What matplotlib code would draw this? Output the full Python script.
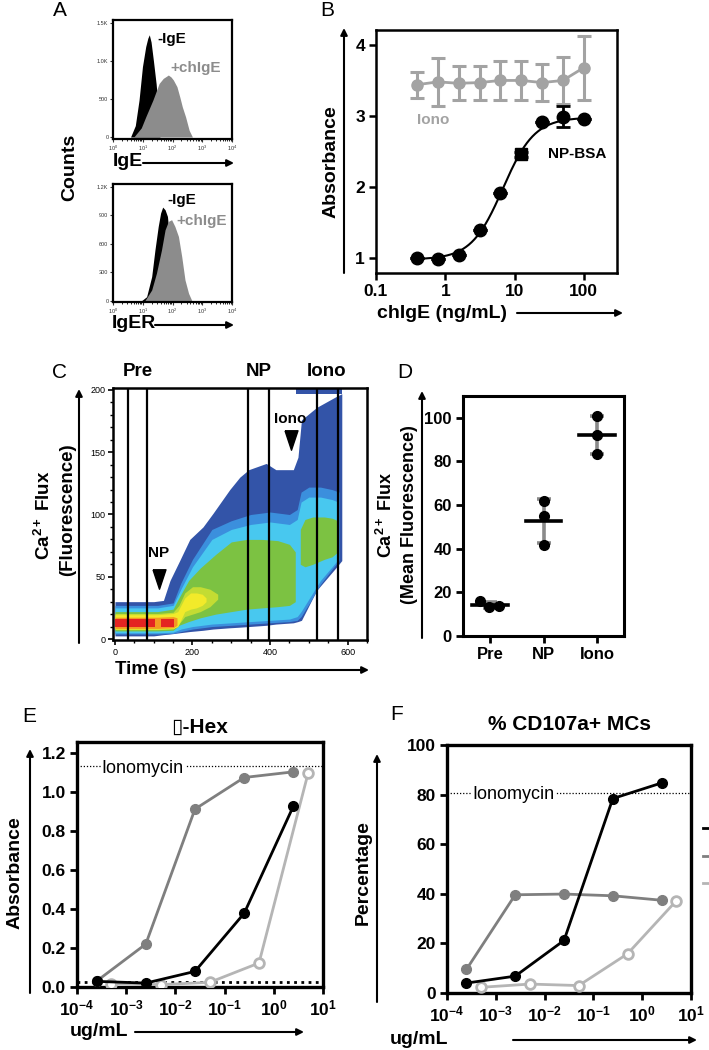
import numpy as np
import matplotlib
matplotlib.use('Agg')
import matplotlib.pyplot as plt
from matplotlib.patches import FancyArrowPatch
import matplotlib.transforms as mtransforms
from matplotlib.ticker import MultipleLocator, LogLocator, NullFormatter, FixedLocator

plt.rcParams['font.family'] = ['Liberation Sans', 'DejaVu Sans']
plt.rcParams['mathtext.fontset'] = 'custom'
plt.rcParams['mathtext.rm'] = 'Liberation Sans'
plt.rcParams['mathtext.bf'] = 'Liberation Sans:bold'
plt.rcParams['mathtext.it'] = 'Liberation Sans:italic'

# ---------------- DATA ----------------
# Panel A: flow histograms (log10 fluorescence, counts)
a1_black_log = [0.59, 0.75, 0.875, 0.99, 1.10, 1.17, 1.22, 1.28, 1.36, 1.45, 1.52, 1.58]
a1_black_cnt = [0, 150, 485, 926, 1190, 1300, 1345, 1250, 1000, 700, 380, 0]
a1_gray_log = [0.70, 0.95, 1.10, 1.34, 1.55, 1.69, 1.80, 1.86, 1.95, 2.03, 2.15, 2.25, 2.33, 2.44, 2.56, 2.67]
a1_gray_cnt = [0, 120, 265, 485, 705, 772, 800, 816, 790, 750, 662, 520, 397, 265, 88, 0]
a2_black_log = [0.96, 1.13, 1.30, 1.41, 1.52, 1.60, 1.67, 1.75, 1.83, 1.92, 2.00]
a2_black_cnt = [0, 42, 254, 536, 784, 925, 988, 960, 890, 600, 0]
a2_gray_log = [1.07, 1.30, 1.46, 1.63, 1.75, 1.86, 1.97, 2.08, 2.20, 2.31, 2.42, 2.54, 2.65]
a2_gray_cnt = [0, 113, 290, 536, 748, 837, 855, 784, 678, 466, 219, 78, 0]
a1_yticks = [0, 500, 1000, 1500]
a1_ylabels = ['0', '500', '1.0K', '1.5K']
a2_yticks = [0, 300, 600, 900, 1200]
a2_ylabels = ['0', '300', '600', '900', '1.2K']
a_xticks = [1, 10, 100, 1000, 10000]
a_xlabels = [r'$10^{0}$', r'$10^{1}$', r'$10^{2}$', r'$10^{3}$', r'$10^{4}$']

# Panel B
b_conc = [0.390625, 0.78125, 1.5625, 3.125, 6.25, 12.5, 25, 50, 100]
b_np = [1.00, 0.99, 1.05, 1.39, 1.92, 2.46, 2.91, 2.99, 2.96]
b_np_err = [0, 0, 0, 0, 0, 0.04, 0, 0.15, 0]
b_np_marker = ['o', 'o', 'o', 'o', 'o', 's', 'o', 'o', 'o']
b_iono = [3.44, 3.48, 3.46, 3.47, 3.50, 3.50, 3.47, 3.50, 3.68]
b_iono_err = [0.18, 0.34, 0.24, 0.24, 0.27, 0.27, 0.26, 0.33, 0.45]
b_fit_bottom, b_fit_top, b_fit_ec50, b_fit_hill = 0.98, 2.98, 6.8, 1.9
b_xticks = [0.1, 1, 10, 100]
b_xlabels = ['0.1', '1', '10', '100']
b_yticks = [1, 2, 3, 4]

# Panel C: density layers (time s, fluorescence lo/hi)
env_t = [0, 100, 125, 142, 167, 193, 227, 253, 296, 322, 345, 390, 415, 460, 472, 481, 520, 572, 585]
env_lo = [2.5, 2.5, 3.5, 4, 5, 6, 7, 8, 9, 9.5, 10, 11, 12, 13, 14, 15, 39, 58, 63]
env_hi = [30, 30, 31, 47, 63, 80, 90, 101, 120, 130, 136, 141, 136, 136, 146, 176, 186, 195, 197]
sat_t = [468, 585]
sat_lo = [196.5, 196.5]
sat_hi = [201, 201]
lb_t = [0, 110, 150, 170, 200, 250, 300, 350, 400, 450, 470, 480, 500, 530, 560, 578]
lb_lo = [4, 4, 4.5, 6, 8, 10, 11, 12, 13, 14, 15, 18, 28, 44, 56, 63]
lb_hi = [27, 27, 29, 45, 64, 88, 95, 100, 102, 100, 104, 118, 122, 122, 120, 118]
cy_t = [0, 110, 150, 170, 200, 250, 300, 350, 400, 450, 470, 480, 500, 530, 560, 576]
cy_lo = [5, 5, 5.5, 8, 10, 12, 13, 14, 15, 16, 18, 22, 32, 47, 58, 64]
cy_hi = [25, 25, 27, 40, 58, 80, 88, 92, 94, 92, 96, 110, 114, 114, 112, 110]
g1_t = [0, 110, 150, 165, 190, 220, 260, 300, 340, 380, 420, 450, 465]
g1_lo = [6.5, 6.5, 7, 11, 14, 17, 20, 22, 24, 25, 26, 27, 30]
g1_hi = [22, 22, 24, 33, 47, 57, 68, 78, 80, 80, 79, 76, 70]
g2_t = [478, 490, 510, 540, 560, 575]
g2_lo = [60, 58, 60, 64, 66, 70]
g2_hi = [88, 96, 98, 98, 97, 95]
yg_t = [0, 110, 150, 165, 180, 200, 220, 245, 265]
yg_lo = [7.5, 7.5, 8, 12, 18, 20, 22, 26, 32]
yg_hi = [20.5, 20.5, 21.5, 27, 37, 42, 42, 40, 36]
ye_t = [0, 110, 150, 162, 180, 195, 210, 225, 235]
ye_lo = [8, 8, 8.5, 10, 22, 24, 25, 27, 30]
ye_hi = [19.5, 19.5, 20.5, 22, 33, 37, 37, 36, 33]
or_t = [0, 110, 150, 160]
or_lo = [8.5, 8.5, 9, 11]
or_hi = [17.5, 17.5, 18, 17]
red_segments = [[0, 104], [118, 152]]
red_lo, red_hi = 9.5, 16
c_gates = [33, 83, 343, 397, 520, 574]
c_gate_names = ['Pre', 'NP', 'Iono']
c_event_t = [113, 453]
c_event_y = [48, 160]
c_event_label_y = [69, 177]
c_event_names = ['NP', 'Iono']

# Panel D
d_groups = ['Pre', 'NP', 'Iono']
d_values = [[16.0, 13.3, 13.6], [61.7, 54.8, 41.7], [101.0, 92.3, 83.4]]
d_jitter = [[-0.19, -0.02, 0.17], [0, 0, 0], [0, 0, 0]]

# Panel E / F
ef_x_filled = [2.5e-4, 2.5e-3, 2.5e-2, 0.25, 2.5]
ef_x_open = [5e-4, 5e-3, 5e-2, 0.5, 5]
e_black = [0.029, 0.020, 0.080, 0.378, 0.927]
e_dgray = [0.030, 0.220, 0.912, 1.074, 1.103]
e_lgray = [0.017, 0.012, 0.024, 0.123, 1.098]
e_iono = 1.132
e_base = 0.026
f_black = [4.0, 6.8, 21.2, 78.4, 84.7]
f_dgray = [9.5, 39.6, 39.9, 39.2, 37.4]
f_lgray = [2.3, 3.6, 3.0, 15.8, 37.2]
f_iono = 80.7
series_names = ['Antigen 1', 'Antigen 2', 'Antigen 3']
ef_xticks = [1e-4, 1e-3, 1e-2, 1e-1, 1e0, 1e1]
ef_xlabels = [r'$\mathbf{10^{-4}}$', r'$\mathbf{10^{-3}}$', r'$\mathbf{10^{-2}}$',
              r'$\mathbf{10^{-1}}$', r'$\mathbf{10^{0}}$', r'$\mathbf{10^{1}}$']

# ---------------- FIGURE ----------------
W, H = 709, 1050
fig = plt.figure(figsize=(W / 100, H / 100), dpi=100)


def ax_px(l, t, r, b):
    return fig.add_axes([l / W, 1 - b / H, (r - l) / W, (b - t) / H])


def fpt(x, y):
    return (x / W, 1 - y / H)


def arrow(x0, y0, x1, y1, lw=1.5, ms=10):
    fig.add_artist(FancyArrowPatch(fpt(x0, y0), fpt(x1, y1), transform=fig.transFigure,
                                   arrowstyle='-|>', mutation_scale=ms, lw=lw, color='k',
                                   shrinkA=0, shrinkB=0))


def ftext(x, y, s, **kw):
    kw.setdefault('va', 'center')
    kw.setdefault('ha', 'center')
    fig.text(x / W, 1 - y / H, s, **kw)


def spines(ax, lw):
    for s in ax.spines.values():
        s.set_linewidth(lw)


def bold_ticks(ax):
    for lab in ax.get_xticklabels() + ax.get_yticklabels():
        lab.set_fontweight('bold')


BLACK = '#000000'
DGRAY = '#7f7f7f'
LGRAY = '#b5b5b5'
HGRAY = '#8c8c8c'
BGRAY = '#a3a3a3'

# ---------- Panel A ----------
for (box, blog, bcnt, glog, gcnt, yl, yt, ylab, txt) in [
        ((113, 20, 232, 139), a1_black_log, a1_black_cnt, a1_gray_log, a1_gray_cnt,
         (-26, 1540), a1_yticks, a1_ylabels, ((32, 1288), (83, 904))),
        ((113, 184, 232, 302), a2_black_log, a2_black_cnt, a2_gray_log, a2_gray_cnt,
         (-14, 1232), a2_yticks, a2_ylabels, ((67, 1059), (138, 844)))]:
    ax = ax_px(*box)
    ax.set_xscale('log')
    ax.set_xlim(1, 1e4)
    ax.set_ylim(*yl)
    ax.fill_between(10 ** np.array(blog), bcnt, 0, color=BLACK, lw=0)
    ax.fill_between(10 ** np.array(glog), gcnt, 0, color=HGRAY, lw=0)
    ax.set_yticks(yt)
    ax.set_yticklabels(ylab)
    ax.set_xticks(a_xticks)
    ax.set_xticklabels(a_xlabels)
    ax.xaxis.set_minor_locator(LogLocator(base=10, subs=np.arange(2, 10)))
    ax.xaxis.set_minor_formatter(NullFormatter())
    ax.tick_params(labelsize=4, length=2.5, width=0.8, pad=0.8, colors='#333333')
    ax.tick_params(which='minor', length=1.5, width=0.6)
    spines(ax, 1.6)
    ax.text(txt[0][0], txt[0][1], '-IgE', fontsize=11, fontweight='bold', color=BLACK,
            ha='left', va='center')
    ax.text(txt[1][0], txt[1][1], '+chIgE', fontsize=11, fontweight='bold', color=HGRAY,
            ha='left', va='center')

ftext(60, 11, 'A', fontsize=15)
ftext(113, 161, 'IgE', fontsize=14, fontweight='bold', ha='left')
arrow(143, 163, 234, 163)
ftext(112, 324, 'IgER', fontsize=14, fontweight='bold', ha='left')
arrow(155, 325, 234, 325)
ftext(70, 167, 'Counts', fontsize=14, fontweight='bold', rotation=90)

# ---------- Panel B ----------
axB = ax_px(376, 30, 617, 273)
axB.set_xscale('log')
axB.set_xlim(0.1, 302)
axB.set_ylim(0.79, 4.21)
xs = np.logspace(np.log10(b_conc[0]), np.log10(b_conc[-1]), 300)
fit = b_fit_bottom + (b_fit_top - b_fit_bottom) / (1 + (b_fit_ec50 / xs) ** b_fit_hill)
axB.plot(xs, fit, color=BLACK, lw=1.5, zorder=2)
axB.errorbar(b_conc, b_iono, yerr=b_iono_err, color=BGRAY, marker='o', ms=8, lw=2,
             elinewidth=2.2, capsize=5, capthick=2.2, zorder=3)
axB.errorbar(b_conc, b_np, yerr=b_np_err, fmt='none', ecolor=BLACK, elinewidth=2,
             capsize=5, capthick=2, zorder=4)
for xv, yv, mk in zip(b_conc, b_np, b_np_marker):
    axB.plot([xv], [yv], marker=mk, ms=9 if mk == 'o' else 8, color=BLACK, ls='none', zorder=5)
axB.set_xticks(b_xticks)
axB.set_xticklabels(b_xlabels)
axB.xaxis.set_minor_locator(FixedLocator([]))
axB.set_yticks(b_yticks)
axB.tick_params(direction='out', length=5, width=1.8, labelsize=12.5, pad=3)
bold_ticks(axB)
spines(axB, 1.8)
axB.text(0.68, 2.95, 'Iono', color=BGRAY, fontsize=11, fontweight='bold', ha='center', va='center')
axB.text(30, 2.46, 'NP-BSA', color=BLACK, fontsize=11, fontweight='bold', ha='left', va='center')
ftext(327, 10, 'B', fontsize=15)
ftext(331, 162, 'Absorbance', fontsize=14, fontweight='bold', rotation=90)
arrow(344, 273, 344, 28)
ftext(377, 313, 'chIgE (ng/mL)', fontsize=14, fontweight='bold', ha='left')
arrow(517, 313, 623, 313)

# ---------- Panel C ----------
axC = ax_px(113, 388, 367, 640)
axC.set_xlim(-5, 650)
axC.set_ylim(-0.8, 201.6)
C_BLUE = '#3354a8'
C_LB = '#3b8fdd'
C_CY = '#48c8ef'
C_GR = '#7cc242'
C_YG = '#c3dc33'
C_YE = '#f2ea2a'
C_OR = '#f39a22'
C_RE = '#e42421'
axC.fill_between(env_t, env_lo, env_hi, color=C_BLUE, lw=0, zorder=1)
axC.fill_between(sat_t, sat_lo, sat_hi, color=C_BLUE, lw=0, zorder=1)
axC.fill_between(lb_t, lb_lo, lb_hi, color=C_LB, lw=0, zorder=1)
axC.fill_between(cy_t, cy_lo, cy_hi, color=C_CY, lw=0, zorder=1)
axC.fill_between(g1_t, g1_lo, g1_hi, color=C_GR, lw=0, zorder=1)
axC.fill_between(g2_t, g2_lo, g2_hi, color=C_GR, lw=0, zorder=1)
axC.fill_between(yg_t, yg_lo, yg_hi, color=C_YG, lw=0, zorder=1)
axC.fill_between(ye_t, ye_lo, ye_hi, color=C_YE, lw=0, zorder=1)
axC.fill_between(or_t, or_lo, or_hi, color=C_OR, lw=0, zorder=1)
for seg in red_segments:
    axC.fill_between(seg, [red_lo] * 2, [red_hi] * 2, color=C_RE, lw=0, zorder=1)
for g in c_gates:
    axC.axvline(g, color=BLACK, lw=1.6, zorder=3)
tri = [(-1, 1.5), (1, 1.5), (0, -1.5), (-1, 1.5)]
for t, y, ly, nm in zip(c_event_t, c_event_y, c_event_label_y, c_event_names):
    axC.plot([t], [y], marker=tri, ms=14, color=BLACK, ls='none', zorder=4)
    axC.text(t, ly, nm, fontsize=11, fontweight='bold', ha='center', va='center', zorder=4)
trC = mtransforms.blended_transform_factory(axC.transData, axC.transAxes)
for i, nm in enumerate(c_gate_names):
    cx = (c_gates[2 * i] + c_gates[2 * i + 1]) / 2
    axC.text(cx, 1.065, nm, transform=trC, fontsize=13.5, fontweight='bold',
             ha='center', va='center')
axC.set_xticks([0, 200, 400, 600])
axC.xaxis.set_minor_locator(MultipleLocator(50))
axC.set_yticks([0, 50, 100, 150, 200])
axC.yaxis.set_minor_locator(MultipleLocator(10))
axC.tick_params(labelsize=6.5, length=3.5, width=1.2, pad=2)
axC.tick_params(which='minor', length=2.5, width=1)
spines(axC, 1.8)
ftext(60, 372, 'C', fontsize=15)
ftext(44, 515, 'Ca$^{\\mathbf{2+}}$ Flux', fontsize=13.5, fontweight='bold', rotation=90)
ftext(68, 510, '(Fluorescence)', fontsize=13.5, fontweight='bold', rotation=90)
arrow(79, 643, 79, 389)
ftext(115, 670, 'Time (s)', fontsize=13.5, fontweight='bold', ha='left')
arrow(193, 670, 369, 670)

# ---------- Panel D ----------
axD = ax_px(463, 396, 624, 636)
axD.set_xlim(-0.5, 2.5)
axD.set_ylim(0, 110)
for i, (vals, jit) in enumerate(zip(d_values, d_jitter)):
    m = np.mean(vals)
    sd = np.std(vals, ddof=1)
    axD.errorbar([i], [m], yerr=[sd], fmt='none', ecolor='#8a8a8a', elinewidth=2.6,
                 capsize=5, capthick=2.6, zorder=2)
    axD.plot(np.array(jit) + i, vals, 'o', ms=7, color=BLACK, zorder=3)
    axD.plot([i - 0.33, i + 0.33], [m, m], color=BLACK, lw=2.6, zorder=4)
axD.set_xticks(range(len(d_groups)))
axD.set_xticklabels(d_groups)
axD.set_yticks([0, 20, 40, 60, 80, 100])
axD.tick_params(direction='out', length=5, width=2, labelsize=12, pad=3)
bold_ticks(axD)
spines(axD, 2.2)
ftext(405, 372, 'D', fontsize=15)
ftext(386, 515, 'Ca$^{\\mathbf{2+}}$ Flux', fontsize=13, fontweight='bold', rotation=90)
ftext(410, 515, '(Mean Fluorescence)', fontsize=13, fontweight='bold', rotation=90)
arrow(422, 638, 422, 391)


# ---------- Panel E & F ----------
def ef_panel(box, black, dgray, lgray, iono, ylim, yticks, ylabels, title, title_y):
    ax = ax_px(*box)
    ax.set_xscale('log')
    ax.set_xlim(1e-4, 1e1)
    ax.set_ylim(*ylim)
    l3, = ax.plot(ef_x_open, lgray, '-o', color=LGRAY, lw=2, ms=7, mfc='white', mew=2,
                  zorder=3, label=series_names[2])
    l2, = ax.plot(ef_x_filled, dgray, '-o', color=DGRAY, lw=2, ms=7, zorder=4,
                  label=series_names[1])
    l1, = ax.plot(ef_x_filled, black, '-o', color=BLACK, lw=2, ms=7, zorder=5,
                  label=series_names[0])
    ax.axhline(iono, ls=(0, (1, 1.5)), lw=0.9, color=BLACK, zorder=2)
    ax.set_xticks(ef_xticks)
    ax.set_xticklabels(ef_xlabels)
    ax.xaxis.set_minor_locator(LogLocator(base=10, subs=np.arange(2, 10)))
    ax.xaxis.set_minor_formatter(NullFormatter())
    ax.set_yticks(yticks)
    ax.set_yticklabels(ylabels)
    ax.tick_params(direction='out', length=5, width=2, labelsize=12.5, pad=3)
    ax.tick_params(which='minor', length=3, width=1.2)
    bold_ticks(ax)
    spines(ax, 2.4)
    ax.text(0.5, title_y, title, transform=ax.transAxes, fontsize=15, fontweight='bold',
            ha='center', va='center')
    return ax, [l1, l2, l3]


axE, _ = ef_panel((77, 742, 323, 987), e_black, e_dgray, e_lgray, e_iono, (0, 1.256),
                  [0, 0.2, 0.4, 0.6, 0.8, 1.0, 1.2],
                  ['0.0', '0.2', '0.4', '0.6', '0.8', '1.0', '1.2'],
                  '\u25af-Hex', 1 + 15 / 245)
axE.axhline(e_base, ls=(0, (1, 1.6)), lw=2, color=BLACK, zorder=2)
axE.text(3.2e-4, 1.12, 'Ionomycin', fontsize=13, ha='left', va='center', zorder=3,
         bbox=dict(facecolor='white', edgecolor='none', pad=0.5))
ftext(29, 716, 'E', fontsize=15)
ftext(15, 873, 'Absorbance', fontsize=14, fontweight='bold', rotation=90)
arrow(30, 993, 30, 749)
ftext(70, 1032, 'ug/mL', fontsize=14, fontweight='bold', ha='left')
arrow(135, 1032, 304, 1032)

axF, handles = ef_panel((447, 745, 691, 993), f_black, f_dgray, f_lgray, f_iono, (0, 100),
                        [0, 20, 40, 60, 80, 100], ['0', '20', '40', '60', '80', '100'],
                        '% CD107a+ MCs', 1 + 21 / 248)
axF.text(3.3e-4, 80, 'Ionomycin', fontsize=13, ha='left', va='center', zorder=3,
         bbox=dict(facecolor='white', edgecolor='none', pad=0.5))
ftext(397, 715, 'F', fontsize=15)
ftext(363, 873, 'Percentage', fontsize=14, fontweight='bold', rotation=90)
arrow(377, 1002, 377, 754)
ftext(390, 1040, 'ug/mL', fontsize=14, fontweight='bold', ha='left')
arrow(513, 1040, 697, 1040)
fig.legend(handles=handles, loc='upper left', bbox_to_anchor=fpt(703, 821),
           bbox_transform=fig.transFigure, frameon=False, fontsize=13,
           borderpad=0, borderaxespad=0, handlelength=2.5, labelspacing=0.6)

fig.savefig('out.png', dpi=100)
